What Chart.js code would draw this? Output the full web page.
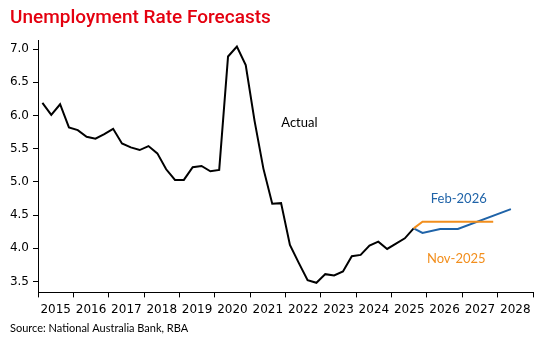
<!DOCTYPE html>
<html>
<head>
<meta charset="utf-8">
<script src="https://cdn.jsdelivr.net/npm/chart.js@4.4.1/dist/chart.umd.min.js"></script>
<style>
html,body{margin:0;padding:0;background:#fff;}
#wrap{width:550px;height:350px;position:relative;}
</style>
</head>
<body>
<div id="wrap"><canvas id="c"></canvas></div>
<script>
// ---- Data ----
const actualQuarters = ['2015Q1','2015Q2','2015Q3','2015Q4','2016Q1','2016Q2','2016Q3','2016Q4',
  '2017Q1','2017Q2','2017Q3','2017Q4','2018Q1','2018Q2','2018Q3','2018Q4',
  '2019Q1','2019Q2','2019Q3','2019Q4','2020Q1','2020Q2','2020Q3','2020Q4',
  '2021Q1','2021Q2','2021Q3','2021Q4','2022Q1','2022Q2','2022Q3','2022Q4',
  '2023Q1','2023Q2','2023Q3','2023Q4','2024Q1','2024Q2','2024Q3','2024Q4',
  '2025Q1','2025Q2','2025Q3'];
const actualValues = [6.19, 6.01, 6.17, 5.82, 5.78, 5.68, 5.65, 5.72,
  5.80, 5.58, 5.52, 5.48, 5.54, 5.43, 5.19, 5.03,
  5.03, 5.22, 5.24, 5.16, 5.18, 6.89, 7.04, 6.76,
  5.92, 5.20, 4.67, 4.68, 4.05, 3.78, 3.52, 3.48,
  3.61, 3.59, 3.65, 3.88, 3.90, 4.04, 4.10, 3.99,
  4.07, 4.15, 4.30];
const nov2025Quarters = ['2025Q3','2025Q4','2027Q4'];
const nov2025Values = [4.30, 4.40, 4.40];
const feb2026Quarters = ['2025Q3','2025Q4','2026Q2','2026Q4','2028Q2'];
const feb2026Values = [4.30, 4.23, 4.29, 4.29, 4.59];
const yearLabels = [2015,2016,2017,2018,2019,2020,2021,2022,2023,2024,2025,2026,2027,2028];
const yTicks = [3.5, 4.0, 4.5, 5.0, 5.5, 6.0, 6.5, 7.0];

function qx(q){ const y = parseInt(q.slice(0,4)); const n = parseInt(q.slice(5)); return y + (n - 0.5) / 4; }
function pts(qs, vs){ return qs.map((q,i)=>({x: qx(q), y: vs[i]})); }

const labelsPlugin = {
  id: 'seriesLabels',
  afterDatasetsDraw(chart, args, opts){
    const ctx = chart.ctx, xs = chart.scales.x, ys = chart.scales.y;
    ctx.save();
    ctx.textAlign = 'left';
    ctx.textBaseline = 'middle';
    ctx.font = opts.font;
    opts.items.forEach(it => {
      ctx.fillStyle = it.color;
      ctx.fillText(it.text, xs.getPixelForValue(it.x), ys.getPixelForValue(it.y));
    });
    ctx.restore();
  }
};

const blue = '#1F63A8', orange = '#F28E1C';
const tickFont = {family: 'DejaVu Sans', size: 12};

new Chart(document.getElementById('c'), {
  type: 'line',
  data: {
    datasets: [
      {label: 'Nov-2025', data: pts(nov2025Quarters, nov2025Values), borderColor: orange, borderWidth: 2, pointRadius: 0, tension: 0},
      {label: 'Feb-2026', data: pts(feb2026Quarters, feb2026Values), borderColor: blue, borderWidth: 2, pointRadius: 0, tension: 0},
      {label: 'Actual', data: pts(actualQuarters, actualValues), borderColor: '#000', borderWidth: 2, pointRadius: 0, tension: 0}
    ]
  },
  options: {
    responsive: true,
    maintainAspectRatio: false,
    animation: false,
    layout: {padding: {left: 10, right: 17, top: 0, bottom: 0}},
    scales: {
      x: {
        type: 'linear', min: 2015, max: 2029,
        afterBuildTicks(s){
          const t = [];
          yearLabels.forEach(y => { t.push({value: y}); t.push({value: y + 0.5}); });
          t.push({value: 2029});
          s.ticks = t;
        },
        border: {display: true, color: '#000', width: 1},
        grid: {
          display: true, drawOnChartArea: false, drawTicks: true, tickLength: 5,
          tickColor: c => (c.tick && Math.abs(c.tick.value % 1) < 1e-9) ? '#000' : 'rgba(0,0,0,0)',
          lineWidth: 1
        },
        ticks: {
          autoSkip: false, maxRotation: 0, padding: 5, color: '#000', font: tickFont,
          callback: v => (Math.abs(v % 1 - 0.5) < 1e-9) ? String(Math.floor(v)) : ''
        }
      },
      y: {
        type: 'linear', min: 3.335, max: 7.126,
        afterBuildTicks(s){ s.ticks = yTicks.map(v => ({value: v})); },
        afterFit(s){ s.width = 28; },
        border: {display: true, color: '#000', width: 1},
        grid: {display: true, drawOnChartArea: false, drawTicks: true, tickLength: 5, tickColor: '#000'},
        ticks: {padding: 4, color: '#000', font: tickFont, callback: v => Number(v).toFixed(1)}
      }
    },
    plugins: {
      legend: {display: false},
      tooltip: {enabled: false},
      title: {
        display: true, text: 'Unemployment Rate Forecasts', align: 'start',
        color: '#E4000F', font: {family: 'Roboto', size: 19, weight: '500'},
        padding: {top: 7, bottom: 11}
      },
      subtitle: {
        display: true, text: 'Source: National Australia Bank, RBA', position: 'bottom', align: 'start',
        color: '#000', font: {family: 'Lato', size: 11, weight: 'normal'},
        padding: {top: 0, bottom: 15}
      },
      seriesLabels: {
        font: '13px Lato',
        items: [
          {text: 'Actual', x: 2021.88, y: 5.885, color: '#000'},
          {text: 'Feb-2026', x: 2026.11, y: 4.74, color: blue},
          {text: 'Nov-2025', x: 2026.0, y: 3.84, color: orange}
        ]
      }
    }
  },
  plugins: [labelsPlugin]
});
</script>
</body>
</html>
